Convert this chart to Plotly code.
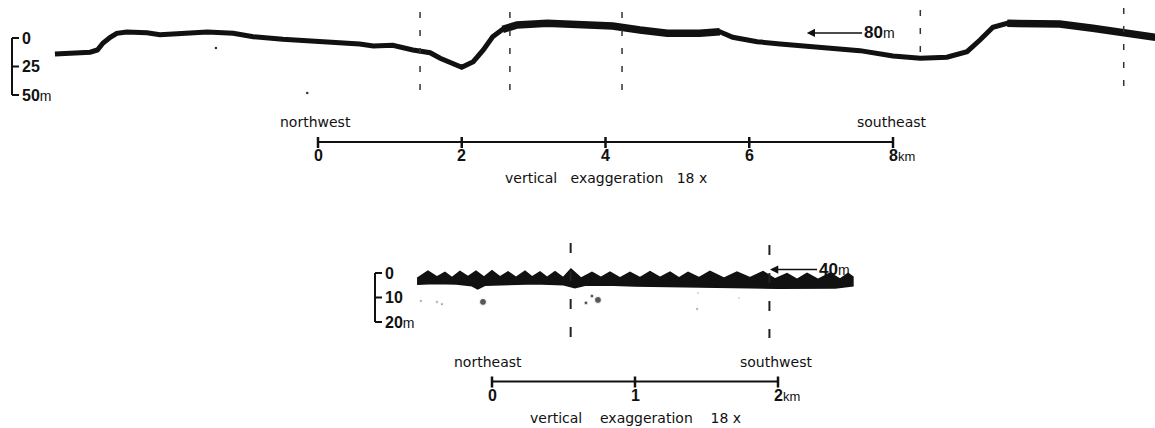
import plotly.graph_objects as go

W, H = 1155, 428

# ---------------- northwest - southeast echo profile ----------------
# along-track distance (km) and depth below the 0 mark of the depth bar (m)
nw_se_km = [-3.66, -3.41, -3.17, -3.07, -2.99, -2.89, -2.80, -2.66, -2.38, -2.20,
            -1.92, -1.54, -1.18, -0.90, -0.49, -0.15, 0.21, 0.58, 0.77, 1.04,
            1.32, 1.56, 1.70, 1.84, 2.00, 2.16, 2.30, 2.43, 2.57, 2.77,
            3.19, 3.65, 4.10, 4.48, 4.86, 5.31, 5.59, 5.77, 6.11, 6.43,
            6.61, 7.08, 7.54, 8.00, 8.38, 8.75, 9.03, 9.21, 9.39, 9.59,
            9.95, 10.32, 10.78, 11.20, 11.65]
nw_se_depth = [14.0, 13.4, 12.5, 10.5, 4.4, -0.6, -4.1, -5.3, -4.6, -2.9,
               -3.5, -5.3, -4.1, -1.1, 1.1, 2.4, 3.5, 5.3, 7.0, 6.4,
               10.5, 12.9, 17.8, 21.3, 25.7, 20.8, 10.5, -1.1, -7.6, -11.4,
               -12.9, -12.3, -10.5, -7.0, -4.1, -4.1, -5.5, -0.6, 3.2, 5.3,
               6.1, 8.2, 11.1, 15.8, 17.8, 16.9, 12.0, 1.8, -9.4, -12.9,
               -13.4, -12.3, -8.5, -4.1, -0.6]
# stretches where the echo trace is broad (km from, km to)
nw_se_broad = [(2.55, 5.6), (9.5, 11.65)]
# crossing lines (km) with their top / bottom depth (m)
nw_se_cross_km = [1.42, 2.67, 4.23, 8.38, 11.21]
nw_se_cross_top = [-22.8, -22.8, -22.8, -24.6, -26.3]
nw_se_cross_bottom = [51.8, 51.8, 51.8, 19.3, 50.9]
nw_se_specks_km = [-1.42, -0.15]
nw_se_specks_depth = [8.8, 48.2]
nw_se_depth_ticks = [0, 25, 50]
nw_se_depth_labels = ["0", "25", "50m"]
nw_se_scale_km = [0, 2, 4, 6, 8]
nw_se_marker_km = [6.80, 7.57]      # arrow tip, arrow tail
nw_se_marker_depth = -4.4
nw_se_marker_text = "80"

# ---------------- northeast - southwest echo profile ----------------
# upper surface of the echo band (ripple crests and troughs)
ne_sw_top_km = [-0.524, -0.448, -0.385, -0.329, -0.280, -0.224, -0.168, -0.112, -0.056, 0.000,
                0.056, 0.112, 0.168, 0.231, 0.280, 0.336, 0.385, 0.441, 0.497, 0.552,
                0.622, 0.699, 0.762, 0.825, 0.895, 0.965, 1.035, 1.105, 1.175, 1.245,
                1.308, 1.371, 1.448, 1.524, 1.622, 1.713, 1.804, 1.895, 1.979, 2.063,
                2.133, 2.203, 2.280, 2.364, 2.434, 2.490, 2.524]
ne_sw_top_depth = [2.2, -0.8, 1.6, -0.2, 1.9, -0.6, 1.5, -0.7, 1.7, -0.9,
                   1.6, -0.5, 1.8, -0.7, 1.6, -0.4, 1.8, -0.5, 1.9, -1.6,
                   2.1, -0.3, 1.8, -0.4, 2.0, -0.3, 1.9, -0.6, 1.8, -0.4,
                   2.0, -0.3, 1.9, -0.7, 2.1, -0.4, 1.9, -0.6, 2.4, 0.2,
                   2.6, 0.1, 2.6, 0.0, 2.5, 0.2, 1.6]
# lower edge of the echo band
ne_sw_base_km = [-0.524, -0.40, -0.25, -0.14, -0.10, -0.05, 0.10, 0.30, 0.50, 0.58,
                 0.65, 0.80, 1.00, 1.20, 1.40, 1.60, 1.80, 2.00, 2.20, 2.40, 2.524]
ne_sw_base_depth = [4.6, 4.3, 4.5, 5.2, 6.5, 5.0, 4.6, 4.4, 4.8, 6.0,
                    5.0, 4.9, 5.3, 5.5, 5.8, 5.9, 6.0, 6.2, 6.3, 6.1, 5.2]
ne_sw_cross_km = [0.55, 1.94]
ne_sw_cross_top = [-12.2, -11.4]
ne_sw_cross_bottom = [27.3, 26.5]
ne_sw_specks_km = [-0.063, 0.741, 0.657, 0.699, -0.497, -0.385, -0.350, 1.434, 1.727, 1.441]
ne_sw_specks_depth = [11.8, 11.0, 12.2, 9.4, 11.4, 11.8, 12.7, 14.7, 10.2, 8.2]
ne_sw_specks_size = [7, 7, 4, 4, 2.5, 2.5, 2.5, 2.5, 2, 2]
ne_sw_depth_ticks = [0, 10, 20]
ne_sw_depth_labels = ["0", "10", "20m"]
ne_sw_scale_km = [0, 1, 2]
ne_sw_marker_km = [1.944, 2.273]
ne_sw_marker_depth = -1.4
ne_sw_marker_text = "40"

NUM_FONT = "Liberation Sans"
WORD_FONT = "DejaVu Sans"
INK = "#111111"


def py(px):
    """paper y from a pixel row"""
    return 1 - px / H


def px_x(px):
    return px / W


fig = go.Figure()

# northwest - southeast trace, with the broad stretches drawn heavier
fig.add_trace(go.Scatter(x=nw_se_km, y=nw_se_depth, mode="lines",
                         line=dict(color=INK, width=5), xaxis="x", yaxis="y",
                         hoverinfo="skip"))
for a, b in nw_se_broad:
    sel = [i for i, k in enumerate(nw_se_km) if a <= k <= b]
    fig.add_trace(go.Scatter(x=[nw_se_km[i] for i in sel], y=[nw_se_depth[i] for i in sel],
                             mode="lines", line=dict(color=INK, width=7.5),
                             xaxis="x", yaxis="y", hoverinfo="skip"))

# northeast - southwest echo band
band_x = ne_sw_top_km + ne_sw_base_km[::-1]
band_y = ne_sw_top_depth + ne_sw_base_depth[::-1]
fig.add_trace(go.Scatter(x=band_x, y=band_y, mode="lines", fill="toself",
                         fillcolor=INK, line=dict(color=INK, width=1.5),
                         xaxis="x2", yaxis="y2", hoverinfo="skip"))

# crossing lines
for k, t, b in zip(nw_se_cross_km, nw_se_cross_top, nw_se_cross_bottom):
    fig.add_trace(go.Scatter(x=[k, k], y=[t, b], mode="lines",
                             line=dict(color="#333333", width=1.5, dash="6px,12px"),
                             xaxis="x", yaxis="y", hoverinfo="skip"))
for k, t, b in zip(ne_sw_cross_km, ne_sw_cross_top, ne_sw_cross_bottom):
    fig.add_trace(go.Scatter(x=[k, k], y=[t, b], mode="lines",
                             line=dict(color="#222222", width=2, dash="10px,18px"),
                             xaxis="x2", yaxis="y2", hoverinfo="skip"))

# scattered returns
fig.add_trace(go.Scatter(x=nw_se_specks_km, y=nw_se_specks_depth, mode="markers",
                         marker=dict(color="#333", size=2.5), xaxis="x", yaxis="y",
                         hoverinfo="skip"))
fig.add_trace(go.Scatter(x=ne_sw_specks_km, y=ne_sw_specks_depth, mode="markers",
                         marker=dict(color=INK, size=ne_sw_specks_size),
                         xaxis="x2", yaxis="y2", hoverinfo="skip"))

shapes = []
annotations = []


def depth_bar(xpx, yref, ticks, labels, fsize):
    x0 = px_x(xpx)
    x1 = px_x(xpx + 7)
    shapes.append(dict(type="line", xref="paper", yref=yref, x0=x0, x1=x0,
                       y0=ticks[0], y1=ticks[-1], line=dict(color=INK, width=2)))
    for t, lab in zip(ticks, labels):
        shapes.append(dict(type="line", xref="paper", yref=yref, x0=x0, x1=x1,
                           y0=t, y1=t, line=dict(color=INK, width=2)))
        txt = "<b>%s</b>" % lab.rstrip("m")
        if lab.endswith("m"):
            txt += "<span style='font-size:%dpx'>m</span>" % (fsize - 2)
        annotations.append(dict(xref="paper", yref=yref, x=px_x(xpx + 8), y=t,
                                xanchor="left", yanchor="middle", text=txt,
                                showarrow=False,
                                font=dict(family=NUM_FONT, size=fsize, color=INK)))


def scale_bar(xref, ticks, ypx, left_word, right_word, caption):
    y0 = py(ypx)
    shapes.append(dict(type="line", xref=xref, yref="paper", x0=ticks[0], x1=ticks[-1],
                       y0=y0, y1=y0, line=dict(color=INK, width=2)))
    for t in ticks:
        shapes.append(dict(type="line", xref=xref, yref="paper", x0=t, x1=t,
                           y0=py(ypx - 5), y1=py(ypx + 6), line=dict(color=INK, width=2.5)))
        if t == ticks[-1]:
            annotations.append(dict(xref=xref, yref="paper", x=t, y=py(ypx + 14),
                                    xanchor="left", xshift=-6, yanchor="middle",
                                    text="<b>%d</b><span style='font-size:13px'>km</span>" % t,
                                    showarrow=False,
                                    font=dict(family=NUM_FONT, size=16, color=INK)))
        else:
            annotations.append(dict(xref=xref, yref="paper", x=t, y=py(ypx + 14),
                                    xanchor="center", yanchor="middle",
                                    text="<b>%d</b>" % t, showarrow=False,
                                    font=dict(family=NUM_FONT, size=16, color=INK)))
    annotations.append(dict(xref=xref, yref="paper", x=ticks[0], y=py(ypx - 20),
                            xanchor="left", xshift=-40, yanchor="middle", text=left_word,
                            showarrow=False, font=dict(family=WORD_FONT, size=14, color=INK)))
    annotations.append(dict(xref=xref, yref="paper", x=ticks[-1], y=py(ypx - 20),
                            xanchor="right", xshift=36, yanchor="middle", text=right_word,
                            showarrow=False, font=dict(family=WORD_FONT, size=14, color=INK)))
    mid = ticks[len(ticks) // 2]
    annotations.append(dict(xref=xref, yref="paper", x=mid, y=py(ypx + 36),
                            xanchor="center", yanchor="middle", text=caption,
                            showarrow=False, font=dict(family=WORD_FONT, size=14, color=INK)))


def marker_arrow(xref, yref, kms, depth, label):
    annotations.append(dict(xref=xref, yref=yref, axref=xref, ayref=yref,
                            x=kms[0], y=depth, ax=kms[1], ay=depth,
                            xanchor="left", yanchor="middle",
                            text="<b>%s</b><span style='font-size:14px'>m</span>" % label,
                            showarrow=True, arrowhead=2, arrowsize=1.1, arrowwidth=1.5,
                            arrowcolor=INK, standoff=0, startstandoff=0,
                            font=dict(family=NUM_FONT, size=17, color=INK)))


depth_bar(12, "y", nw_se_depth_ticks, nw_se_depth_labels, 16)
depth_bar(375, "y2", ne_sw_depth_ticks, ne_sw_depth_labels, 16)

NB = "\u00a0"
scale_bar("x", nw_se_scale_km, 142, "northwest", "southeast",
          "vertical" + NB * 3 + "exaggeration" + NB * 3 + "18" + NB + "x")
scale_bar("x2", ne_sw_scale_km, 381.5, "northeast", "southwest",
          "vertical" + NB * 4 + "exaggeration" + NB * 4 + "18" + NB + "x")

marker_arrow("x", "y", nw_se_marker_km, nw_se_marker_depth, nw_se_marker_text)
marker_arrow("x2", "y2", ne_sw_marker_km, ne_sw_marker_depth, ne_sw_marker_text)

axis_off = dict(visible=False, showgrid=False, zeroline=False, fixedrange=True)
fig.update_layout(
    width=W, height=H,
    margin=dict(l=0, r=0, t=0, b=0),
    paper_bgcolor="white", plot_bgcolor="white",
    showlegend=False,
    xaxis=dict(domain=[0, 1], range=[-318 / 71.875, (W - 318) / 71.875], anchor="y", **axis_off),
    yaxis=dict(domain=[0.5, 1], range=[(214 - 38) / 1.14, -38 / 1.14], anchor="x", **axis_off),
    xaxis2=dict(domain=[0, 1], range=[-492 / 143, (W - 492) / 143], anchor="y2", **axis_off),
    yaxis2=dict(domain=[0, 0.5], range=[(428 - 273) / 2.45, (214 - 273) / 2.45], anchor="x2", **axis_off),
    shapes=shapes,
    annotations=annotations,
)

fig.write_html("out.html")
